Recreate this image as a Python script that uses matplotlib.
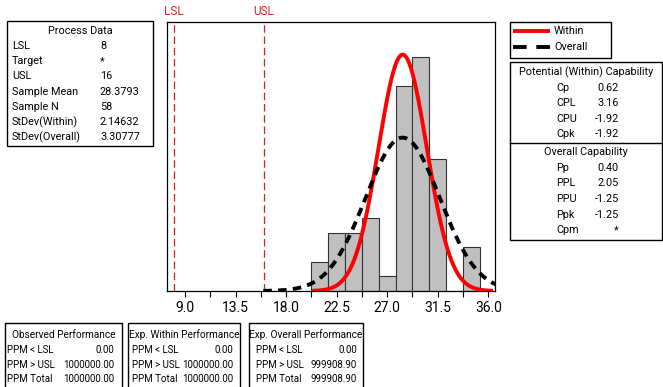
import numpy as np
import matplotlib.pyplot as plt
from matplotlib.patches import Rectangle

plt.rcParams["font.family"] = "Roboto"

# data
lsl, usl = 8, 16
mean = 28.3793
n = 58
sd_within = 2.14632
sd_overall = 3.30777
bin_centers = [21.0, 22.5, 24.0, 25.5, 27.0, 28.5, 30.0, 31.5, 33.0, 34.5]
counts = [2, 4, 4, 5, 1, 14, 16, 9, 0, 3]
bin_width = 1.5
xticks = [9.0, 13.5, 18.0, 22.5, 27.0, 31.5, 36.0]

process_labels = ["LSL", "Target", "USL", "Sample Mean", "Sample N",
                  "StDev(Within)", "StDev(Overall)"]
process_values = ["8", "*", "16", "28.3793", "58", "2.14632", "3.30777"]

within_labels = ["Cp", "CPL", "CPU", "Cpk"]
within_values = ["0.62", "3.16", "-1.92", "-1.92"]
overall_labels = ["Pp", "PPL", "PPU", "Ppk", "Cpm"]
overall_values = ["0.40", "2.05", "-1.25", "-1.25", "*"]

perf_titles = ["Observed Performance", "Exp. Within Performance",
               "Exp. Overall Performance"]
perf_labels = ["PPM < LSL", "PPM > USL", "PPM Total"]
perf_values = [["0.00", "1000000.00", "1000000.00"],
               ["0.00", "1000000.00", "1000000.00"],
               ["0.00", "999908.90", "999908.90"]]

W, H = 663, 387
fig = plt.figure(figsize=(W / 100, H / 100), dpi=100)

# main histogram axes
l, r, t, b = 167, 495, 22, 291
ax = fig.add_axes([l / W, (H - b) / H, (r - l) / W, (b - t) / H])
ax.bar(bin_centers, counts, width=bin_width, color="#c0c0c0",
       edgecolor="#333333", linewidth=0.8, zorder=1)

x1 = np.linspace(mean - 3.75 * sd_within, mean + 3.75 * sd_within, 300)
y1 = n * bin_width * np.exp(-0.5 * ((x1 - mean) / sd_within) ** 2) / (sd_within * np.sqrt(2 * np.pi))
x2 = np.linspace(mean - 3.75 * sd_overall, mean + 3.75 * sd_overall, 300)
y2 = n * bin_width * np.exp(-0.5 * ((x2 - mean) / sd_overall) ** 2) / (sd_overall * np.sqrt(2 * np.pi))
ax.plot(x1, y1, color="#ff0000", lw=2.8, zorder=3, solid_capstyle="butt")
ax.plot(x2, y2, color="black", lw=2.8, ls=(0, (2.2, 1.6)), zorder=3)

for v, name in [(lsl, "LSL"), (usl, "USL")]:
    ax.axvline(v, color="#d42020", lw=0.9, ls=(0, (6, 3)), zorder=2)
    ax.annotate(name, xy=(v, 1), xycoords=("data", "axes fraction"),
                xytext=(0, 3), textcoords="offset points", color="#e02020",
                ha="center", va="bottom", fontsize=8.5, annotation_clip=False)

ax.set_xlim(7.4, 36.6)
ax.set_ylim(0, 18.4)
ax.set_yticks([])
ax.set_xticks(xticks)
ax.set_xticklabels([f"{v:.1f}" for v in xticks], fontsize=10)
ax.set_xticks([v + 2.25 for v in xticks[:-1]], minor=True)
ax.tick_params(axis="x", which="both", direction="out", length=4, width=0.8, pad=3)
for s in ax.spines.values():
    s.set_linewidth(0.9)

# overlay in pixel coords for the text boxes
ov = fig.add_axes([0, 0, 1, 1])
ov.set_xlim(0, W)
ov.set_ylim(H, 0)
ov.axis("off")
ov.patch.set_alpha(0)

fs = 7.8


def box(x0, y0, x1, y1):
    ov.add_patch(Rectangle((x0, y0), x1 - x0, y1 - y0, fill=False,
                           edgecolor="black", lw=1.0, clip_on=False))


# process data
box(7, 21, 153, 146)
ov.text(80, 31, "Process Data", ha="center", va="center", fontsize=fs)
for i, (lab, val) in enumerate(zip(process_labels, process_values)):
    y = 46 + i * 15.2
    ov.text(12, y, lab, ha="left", va="center", fontsize=fs)
    ov.text(100, y, val, ha="left", va="center", fontsize=fs)

# legend
box(510, 22, 611, 58)
ov.plot([513, 550], [31, 31], color="#ff0000", lw=2.8, solid_capstyle="butt")
ov.plot([513, 550], [47, 47], color="black", lw=2.8, ls=(0, (3.5, 2.5)))
ov.text(554, 31, "Within", ha="left", va="center", fontsize=fs)
ov.text(554, 47, "Overall", ha="left", va="center", fontsize=fs)

# capability
box(510, 62, 662, 240)
ov.plot([510, 662], [143, 143], color="black", lw=1.0)
ov.text(586, 72, "Potential (Within) Capability", ha="center", va="center", fontsize=fs)
for i, (lab, val) in enumerate(zip(within_labels, within_values)):
    y = 88 + i * 15.3
    ov.text(556, y, lab, ha="left", va="center", fontsize=fs)
    ov.text(619, y, val, ha="right", va="center", fontsize=fs)
ov.text(586, 152, "Overall Capability", ha="center", va="center", fontsize=fs)
for i, (lab, val) in enumerate(zip(overall_labels, overall_values)):
    y = 168 + i * 15.5
    ov.text(556, y, lab, ha="left", va="center", fontsize=fs)
    ov.text(619, y, val, ha="right", va="center", fontsize=fs)

# performance boxes
boxes = [(5, 122, 7, 114), (128, 240, 132, 233), (249, 363, 256, 357)]
for (x0, x1, lx, vx), title, vals in zip(boxes, perf_titles, perf_values):
    box(x0, 323, x1, 395)
    ov.text((x0 + x1) / 2, 335, title, ha="center", va="center", fontsize=7.2)
    for i, (lab, val) in enumerate(zip(perf_labels, vals)):
        y = 350 + i * 14.5
        ov.text(lx, y, lab, ha="left", va="center", fontsize=7)
        ov.text(vx, y, val, ha="right", va="center", fontsize=7)

fig.savefig("out.png", dpi=100)
